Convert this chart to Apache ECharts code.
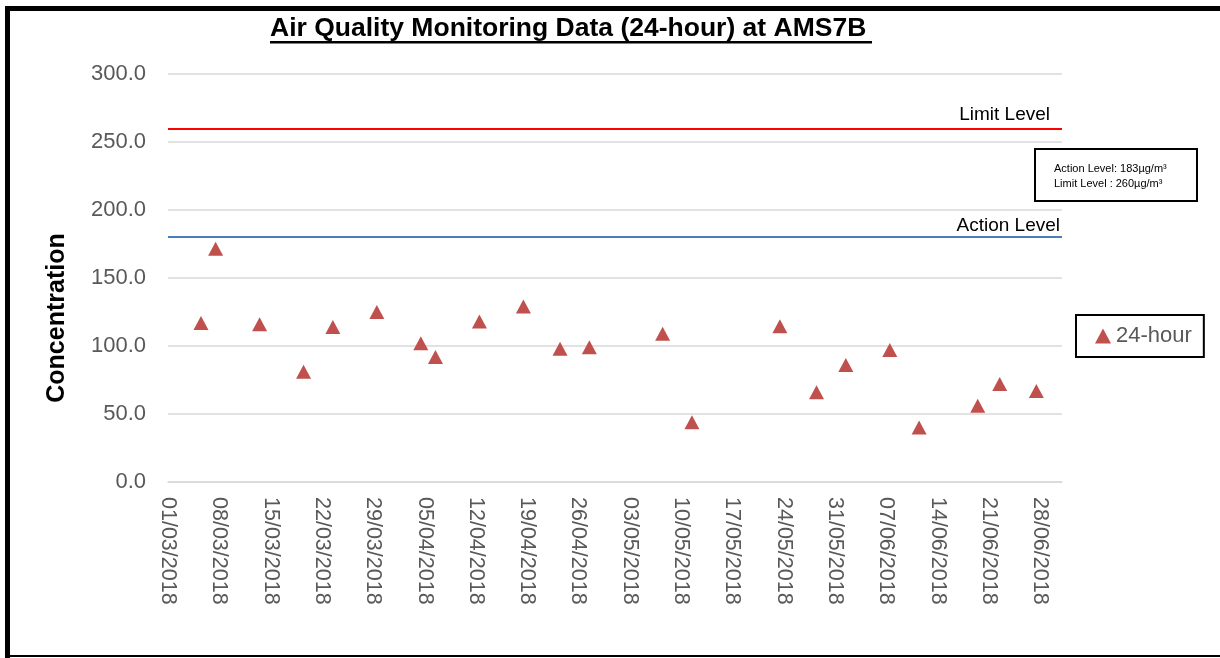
<!DOCTYPE html>
<html>
<head>
<meta charset="utf-8">
<script src="https://cdn.jsdelivr.net/npm/echarts@6/dist/echarts.min.js"></script>
<style>
  html, body { margin: 0; padding: 0; background: #fff; }
  #chart { width: 1220px; height: 658px; }
</style>
</head>
<body>
<div id="chart"></div>
<script>
// Sampling dates (dd/mm/yyyy) and 24-hour concentrations
const sampleDates = [
    '05/03/2018', '07/03/2018', '13/03/2018', '19/03/2018', '23/03/2018', '29/03/2018',
    '04/04/2018', '06/04/2018', '12/04/2018', '18/04/2018', '23/04/2018', '27/04/2018',
    '07/05/2018', '11/05/2018', '23/05/2018', '28/05/2018', '01/06/2018', '07/06/2018',
    '11/06/2018', '19/06/2018', '22/06/2018', '27/06/2018'
];
const values24h = [
    117, 171.5, 116, 81, 114, 125,
    102, 92, 118, 129, 98, 99,
    109, 44, 114.5, 66, 86, 97,
    40, 56, 72, 67
];
const actionLevel = 180;
const limitLevel = 260;
const axisStart = '01/03/2018';
const axisEnd = '01/07/2018';
const yTicks = [0, 50, 100, 150, 200, 250, 300];

const DAY = 24 * 3600 * 1000;

function parseDate(str) {
    const [d, m, y] = str.split('/').map(Number);
    return Date.UTC(y, m - 1, d);
}

// day offset from start of axis
function dayIndex(str) {
    return Math.round((parseDate(str) - parseDate(axisStart)) / DAY);
}

function formatDay(offset) {
    const dt = new Date(parseDate(axisStart) + offset * DAY);
    const dd = String(dt.getUTCDate()).padStart(2, '0');
    const mm = String(dt.getUTCMonth() + 1).padStart(2, '0');
    return `${dd}/${mm}/${dt.getUTCFullYear()}`;
}

const chart = echarts.init(document.getElementById('chart'));

const labelFont = 'Liberation Sans';
const greyText = '#595959';

const option = {
    backgroundColor: '#fff',
    animation: false,
    title: {
        text: 'Air Quality Monitoring Data (24-hour) at AMS7B',
        left: 270,
        top: 15,
        padding: 0,
        textStyle: {
            fontFamily: 'Liberation Sans',
            fontWeight: 'bold',
            fontSize: 26.5,
            color: '#000'
        }
    },
    grid: {
        left: 168,
        right: 158,
        top: 74,
        bottom: 176,
        containLabel: false
    },
    legend: {
        data: ['24-hour'],
        orient: 'vertical',
        left: 1076,
        top: 315,
        padding: [10, 12, 10, 19],
        borderColor: '#000',
        borderWidth: 2,
        itemWidth: 16,
        itemHeight: 15,
        itemGap: 0,
        textStyle: {
            fontFamily: labelFont,
            fontSize: 22,
            color: greyText
        }
    },
    xAxis: {
        type: 'value',
        min: 0,
        max: dayIndex(axisEnd),
        interval: 7,
        axisLine: { show: true, lineStyle: { color: '#d9d9d9', width: 1.5 } },
        axisTick: { show: false },
        splitLine: { show: false },
        axisLabel: {
            rotate: -90,
            margin: 15,
            fontFamily: labelFont,
            fontSize: 21.5,
            color: greyText,
            showMaxLabel: false,
            formatter: (v) => formatDay(v)
        }
    },
    yAxis: {
        type: 'value',
        min: yTicks[0],
        max: yTicks[yTicks.length - 1],
        interval: 50,
        axisLine: { show: false },
        axisTick: { show: false },
        splitLine: { lineStyle: { color: '#d9d9d9', width: 1.5 } },
        axisLabel: {
            margin: 22,
            fontFamily: labelFont,
            fontSize: 22,
            color: greyText,
            formatter: (v) => v.toFixed(1)
        }
    },
    series: [
        {
            name: '24-hour',
            type: 'scatter',
            symbol: 'triangle',
            symbolSize: [15, 14],
            itemStyle: { color: '#c0504d', opacity: 1 },
            // 24-hour samples sit in the middle of their day
            data: sampleDates.map((d, i) => [dayIndex(d) + 0.5, values24h[i]]),
            markLine: {
                silent: true,
                symbol: 'none',
                data: [
                    {
                        yAxis: limitLevel,
                        lineStyle: { color: '#ff0000', width: 2, type: 'solid' },
                        label: {
                            formatter: 'Limit Level',
                            position: 'insideEndTop',
                            distance: [12, 4],
                            fontFamily: labelFont,
                            fontSize: 19,
                            color: '#000'
                        }
                    },
                    {
                        yAxis: actionLevel,
                        lineStyle: { color: '#4a7ebb', width: 2, type: 'solid' },
                        label: {
                            formatter: 'Action Level',
                            position: 'insideEndTop',
                            distance: [2, 2],
                            fontFamily: labelFont,
                            fontSize: 19,
                            color: '#000'
                        }
                    }
                ]
            }
        }
    ],
    graphic: [
        // outer frame
        { type: 'rect', shape: { x: 5, y: 6, width: 1220, height: 5 }, style: { fill: '#000' } },
        { type: 'rect', shape: { x: 5, y: 6, width: 5, height: 658 }, style: { fill: '#000' } },
        { type: 'rect', shape: { x: 5, y: 655, width: 1220, height: 2 }, style: { fill: '#000' } },
        // title underline
        { type: 'rect', shape: { x: 270, y: 41, width: 602, height: 2.5 }, style: { fill: '#000' } },
        // y axis name
        {
            type: 'text',
            x: 57,
            y: 318,
            rotation: Math.PI / 2,
            style: {
                text: 'Concentration',
                fontFamily: 'Liberation Sans',
                fontWeight: 'bold',
                fontSize: 25,
                fill: '#000',
                align: 'center',
                verticalAlign: 'middle'
            }
        },
        // note box
        {
            type: 'rect',
            shape: { x: 1035, y: 149, width: 162, height: 52 },
            style: { fill: '#fff', stroke: '#000', lineWidth: 2 }
        },
        {
            type: 'text',
            x: 1054,
            y: 161,
            style: {
                text: 'Action Level: 183µg/m³\nLimit Level : 260µg/m³',
                fontFamily: labelFont,
                fontSize: 11,
                lineHeight: 15,
                fill: '#000'
            }
        }
    ]
};

chart.setOption(option);
</script>
</body>
</html>
